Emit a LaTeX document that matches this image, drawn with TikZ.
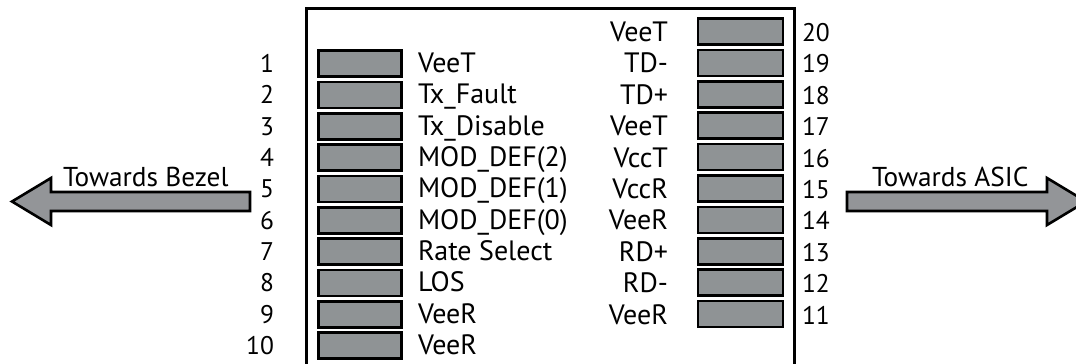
\documentclass[tikz,border=0pt]{standalone}
\usepackage{fontspec}
\setmainfont{PT Sans}
\definecolor{pingray}{HTML}{8F9395}
\definecolor{arrowgray}{HTML}{939598}
\tikzset{
  pinbox/.style={draw=black,fill=pingray,line width=2.6pt,minimum width=83pt,minimum height=26pt,inner sep=0pt,outer sep=0pt},
  numlbl/.style={inner sep=0pt,outer sep=0pt,font=\fontsize{25.5}{30}\selectfont,text=black,anchor=base west},
  numlblr/.style={numlbl,anchor=base east},
  lbl/.style={numlbl,font=\fontsize{28}{32}\selectfont},
  lblr/.style={lbl,anchor=base east},
  arrlbl/.style={numlbl,font=\fontsize{27.3}{32}\selectfont},
  dirarrow/.style={draw=black,fill=arrowgray,line width=2.6pt,miter limit=10}
}
\begin{document}
\begin{tikzpicture}[x=1pt,y=-1pt]
\useasboundingbox (0,0) rectangle (1076,364);
\draw[line width=3pt] (306,380) -- (306,8) -- (794,8) -- (794,380);
\foreach \n/\t [count=\i from 0] in {1/VeeT,2/Tx\_Fault,3/Tx\_Disable,4/MOD\_DEF(2),5/MOD\_DEF(1),6/MOD\_DEF(0),7/Rate Select,8/LOS,9/VeeR,10/VeeR}{
  \pgfmathsetmacro\yy{63.5+31.35*\i}
  \node[pinbox] (p\n) at (360,\yy) {};
  \node[numlblr] (n\n) at (274,\yy+9) {\n};
  \node[lbl] (t\n) at (418,\yy+9) {\t};
}
\foreach \n/\t [count=\i from 0] in {20/VeeT,19/TD-,18/TD+,17/VeeT,16/VccT,15/VccR,14/VeeR,13/RD+,12/RD-,11/VeeR}{
  \pgfmathsetmacro\yy{31.5+31.4*\i}
  \node[pinbox,minimum width=85pt] (p\n) at (740.5,\yy) {};
  \node[numlbl] (n\n) at (802,\yy+10) {\n};
  \node[lblr] (t\n) at (668,\yy+10) {\t};
}
\draw[dirarrow] (250,192) -- (51,192) -- (51,178) -- (12,201.5) -- (51,225) -- (51,211) -- (250,211) -- cycle;
\draw[dirarrow] (847,192) -- (1047,192) -- (1047,178) -- (1086,201.5) -- (1047,225) -- (1047,211) -- (847,211) -- cycle;
\node[arrlbl] (bezel) at (63,186) {Towards Bezel};
\node[arrlbl] (asic) at (872,186) {Towards ASIC};
\end{tikzpicture}
\end{document}
